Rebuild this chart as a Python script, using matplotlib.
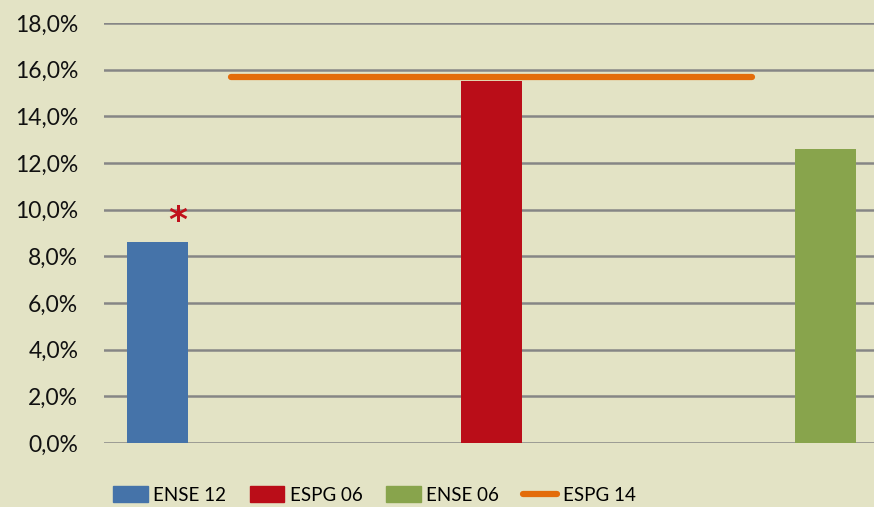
import matplotlib.pyplot as plt
from matplotlib.lines import Line2D
from matplotlib.patches import Patch
from matplotlib.ticker import FuncFormatter

series = ["ENSE 12", "ESPG 06", "ENSE 06"]
values = [8.6, 15.5, 12.6]
colors = ["#4573A9", "#BA0D18", "#88A44C"]
ref_label = "ESPG 14"
ref_value = 15.7
yticks = [0, 2, 4, 6, 8, 10, 12, 14, 16, 18]

bg = "#E3E3C5"
plt.rcParams["font.family"] = ["Lato", "DejaVu Sans"]

fig = plt.figure(figsize=(8.74, 5.07), dpi=100, facecolor=bg)
ax = fig.add_axes([104 / 874, 1 - 443 / 507, 1 - 104 / 874, 420 / 507])
ax.set_facecolor(bg)

x = range(len(series))
ax.bar(x, values, width=0.183, color=colors, zorder=3)
ax.hlines(ref_value, 0.22, 1.78, color="#E36C0A", linewidth=4.5,
          capstyle="round", zorder=4)

# significance marker over the first bar
ax.text(0.06, values[0] + 0.17, "*", color="#C0101B", fontsize=26,
        fontweight="bold", family="DejaVu Sans", ha="center", va="bottom",
        zorder=5)

ax.set_xlim(-0.16, 2.145)
ax.set_ylim(0, 18)
ax.set_yticks(yticks)
ax.yaxis.set_major_formatter(FuncFormatter(lambda v, p: f"{v:.1f}%".replace(".", ",")))
ax.set_xticks([])
ax.tick_params(axis="y", length=0, pad=18.5, labelsize=16.5, labelcolor="#111111")
ax.grid(axis="y", color="#868686", linewidth=1.8, zorder=1)
for s in ax.spines.values():
    s.set_visible(False)

handles = [Patch(color=c, label=l) for c, l in zip(colors, series)]
handles.append(Line2D([0], [0], color="#E36C0A", linewidth=4.5,
                      solid_capstyle="round", label=ref_label))
fig.legend(handles=handles, loc="lower left", bbox_to_anchor=(96 / 874, -0.027),
           ncol=4, frameon=False, handlelength=1.85, handleheight=0.95,
           handletextpad=0.3, columnspacing=1.25,
           prop={"family": "Lato", "size": 13.5})

fig.savefig("out.png", dpi=100, facecolor=bg)
